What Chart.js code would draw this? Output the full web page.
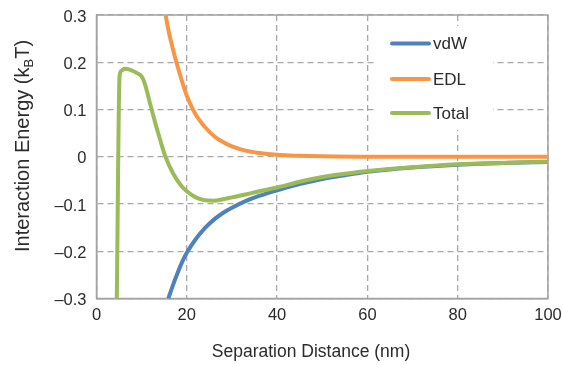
<!DOCTYPE html>
<html>
<head>
<meta charset="utf-8">
<script src="https://cdn.jsdelivr.net/npm/chart.js@4/dist/chart.umd.min.js"></script>
<style>
  html, body { margin: 0; padding: 0; background: #fff; }
  #wrap { width: 563px; height: 365px; position: relative; }
</style>
</head>
<body>
<div id="wrap"><canvas id="c" width="563" height="365"></canvas></div>
<script>
// ---- data ----
const seriesNames = ['vdW', 'EDL', 'Total'];

const vdwX = [15.9, 17, 18, 19, 20, 22, 24, 26, 28, 30, 33, 36, 40, 45, 50, 55, 60, 70, 80, 90, 100];
const vdwY = [-0.3, -0.27, -0.245, -0.222, -0.203, -0.174, -0.151, -0.133, -0.119, -0.108, -0.094, -0.083, -0.071, -0.058, -0.047, -0.039, -0.032, -0.023, -0.017, -0.013, -0.011];

const edlX = [15.3, 16, 17, 18, 19, 20, 21, 22, 23, 24, 26, 28, 30, 33, 36, 40, 45, 50, 60, 70, 80, 90, 100];
const edlY = [0.3, 0.265, 0.225, 0.19, 0.158, 0.129, 0.107, 0.089, 0.075, 0.063, 0.044, 0.031, 0.022, 0.013, 0.008, 0.004, 0.002, 0.001, 0.0, 0.0, 0.0, 0.0, 0.0];

const totalX = [4.5, 5.1, 5.5, 6.2, 7.5, 9.0, 10.0, 10.7, 11.8, 13.0, 14.1, 15.2, 17.0, 19.0, 20.0, 22.0, 24.0, 26.0, 28.0, 30.0, 33.0, 36.0, 40.0, 45.0, 50.0, 55.0, 60.0, 70.0, 80.0, 90.0, 100];
const totalY = [-0.3, 0.17, 0.182, 0.186, 0.184, 0.177, 0.17, 0.155, 0.115, 0.072, 0.036, 0.002, -0.036, -0.064, -0.073, -0.086, -0.092, -0.093, -0.090, -0.086, -0.080, -0.073, -0.065, -0.053, -0.043, -0.036, -0.030, -0.022, -0.016, -0.013, -0.0105];

const xTickValues = [0, 20, 40, 60, 80, 100];
const xTickLabels = ['0', '20', '40', '60', '80', '100'];
const yTickValues = [-0.3, -0.2, -0.1, 0, 0.1, 0.2, 0.3];
const yTickLabels = ['\u20130.3', '\u20130.2', '\u20130.1', '0', '0.1', '0.2', '0.3'];

const xTitle = 'Separation Distance (nm)';
const yTitleParts = ['Interaction Energy (k', 'B', 'T)'];

// ---- styling ----
const FONT = '"Liberation Sans", Arial, Helvetica, sans-serif';
const TEXT = '#2b2b2b';
const colors = ['#4F81BD', '#F79646', '#9BBB59'];

function pts(xs, ys) { return xs.map((x, i) => ({ x: x, y: ys[i] })); }

function labelFor(values, labels, v) {
  for (let i = 0; i < values.length; i++) {
    if (Math.abs(values[i] - v) < 1e-6) return labels[i];
  }
  return '';
}

const frameAndLegend = {
  id: 'frameAndLegend',
  beforeDatasetsDraw(chart) {
    const ctx = chart.ctx, a = chart.chartArea;
    ctx.save();
    ctx.fillStyle = '#fff';
    ctx.fillRect(376, 26, 117, 104);
    ctx.strokeStyle = '#a3a3a3';
    ctx.lineWidth = 1.5;
    ctx.strokeRect(a.left, a.top, a.right - a.left, a.bottom - a.top);
    ctx.restore();
  },
  afterDraw(chart) {
    const ctx = chart.ctx;
    ctx.save();
    const rows = [43.5, 79, 113];
    chart.data.datasets.forEach((ds, i) => {
      const y = rows[i];
      ctx.strokeStyle = ds.borderColor;
      ctx.lineWidth = 4;
      ctx.lineCap = 'round';
      ctx.beginPath();
      ctx.moveTo(392, y);
      ctx.lineTo(429, y);
      ctx.stroke();
      ctx.fillStyle = TEXT;
      ctx.font = '17px ' + FONT;
      ctx.textBaseline = 'middle';
      ctx.textAlign = 'left';
      ctx.fillText(ds.label, 433, y + 1);
    });
    ctx.fillStyle = TEXT;
    ctx.font = '17.5px ' + FONT;
    ctx.textAlign = 'center';
    ctx.textBaseline = 'alphabetic';
    ctx.fillText(xTitle, 311, 357);
    ctx.translate(29, 146);
    ctx.rotate(-Math.PI / 2);
    const big = '20px ' + FONT, small = '13px ' + FONT;
    ctx.font = big; const w1 = ctx.measureText(yTitleParts[0]).width;
    ctx.font = small; const w2 = ctx.measureText(yTitleParts[1]).width;
    ctx.font = big; const w3 = ctx.measureText(yTitleParts[2]).width;
    let x = -(w1 + w2 + w3) / 2;
    ctx.textAlign = 'left';
    ctx.font = big; ctx.fillText(yTitleParts[0], x, 0); x += w1;
    ctx.font = small; ctx.fillText(yTitleParts[1], x, 4); x += w2;
    ctx.font = big; ctx.fillText(yTitleParts[2], x, 0);
    ctx.restore();
  }
};

new Chart(document.getElementById('c'), {
  type: 'line',
  data: {
    datasets: [
      { label: seriesNames[0], data: pts(vdwX, vdwY), borderColor: colors[0], order: 3 },
      { label: seriesNames[1], data: pts(edlX, edlY), borderColor: colors[1], order: 2 },
      { label: seriesNames[2], data: pts(totalX, totalY), borderColor: colors[2], order: 1 }
    ].map(d => Object.assign(d, {
      borderWidth: 4, pointRadius: 0, fill: false,
      cubicInterpolationMode: 'monotone', borderJoinStyle: 'round', clip: 0
    }))
  },
  options: {
    responsive: false,
    animation: false,
    layout: { padding: { left: 0, top: 15, right: 15, bottom: 0 } },
    plugins: { legend: { display: false }, tooltip: { enabled: false } },
    scales: {
      x: {
        type: 'linear', min: 0, max: 100,
        afterBuildTicks(s) { s.ticks = xTickValues.map(v => ({ value: v })); },
        afterFit(s) { s.height = 66.5; s.paddingLeft = 0; s.paddingRight = 0; },
        ticks: {
          padding: 7, color: TEXT, font: { family: FONT, size: 16.5 },
          maxRotation: 0, autoSkip: false,
          callback: v => labelFor(xTickValues, xTickLabels, v)
        },
        grid: { color: '#a8a8a8', lineWidth: 1.3, drawTicks: false },
        border: { display: true, color: '#a3a3a3', width: 1.5, dash: [6, 4] }
      },
      y: {
        type: 'linear', min: -0.3, max: 0.3,
        afterBuildTicks(s) { s.ticks = yTickValues.map(v => ({ value: v })); },
        afterFit(s) { s.width = 96.5; s.paddingTop = 0; s.paddingBottom = 0; },
        ticks: {
          padding: 10, color: TEXT, font: { family: FONT, size: 16.5 },
          labelOffset: 2, autoSkip: false,
          callback: v => labelFor(yTickValues, yTickLabels, v)
        },
        grid: { color: '#a8a8a8', lineWidth: 1.3, drawTicks: false },
        border: { display: true, color: '#a3a3a3', width: 1.5, dash: [6, 4] }
      }
    }
  },
  plugins: [frameAndLegend]
});
</script>
</body>
</html>
